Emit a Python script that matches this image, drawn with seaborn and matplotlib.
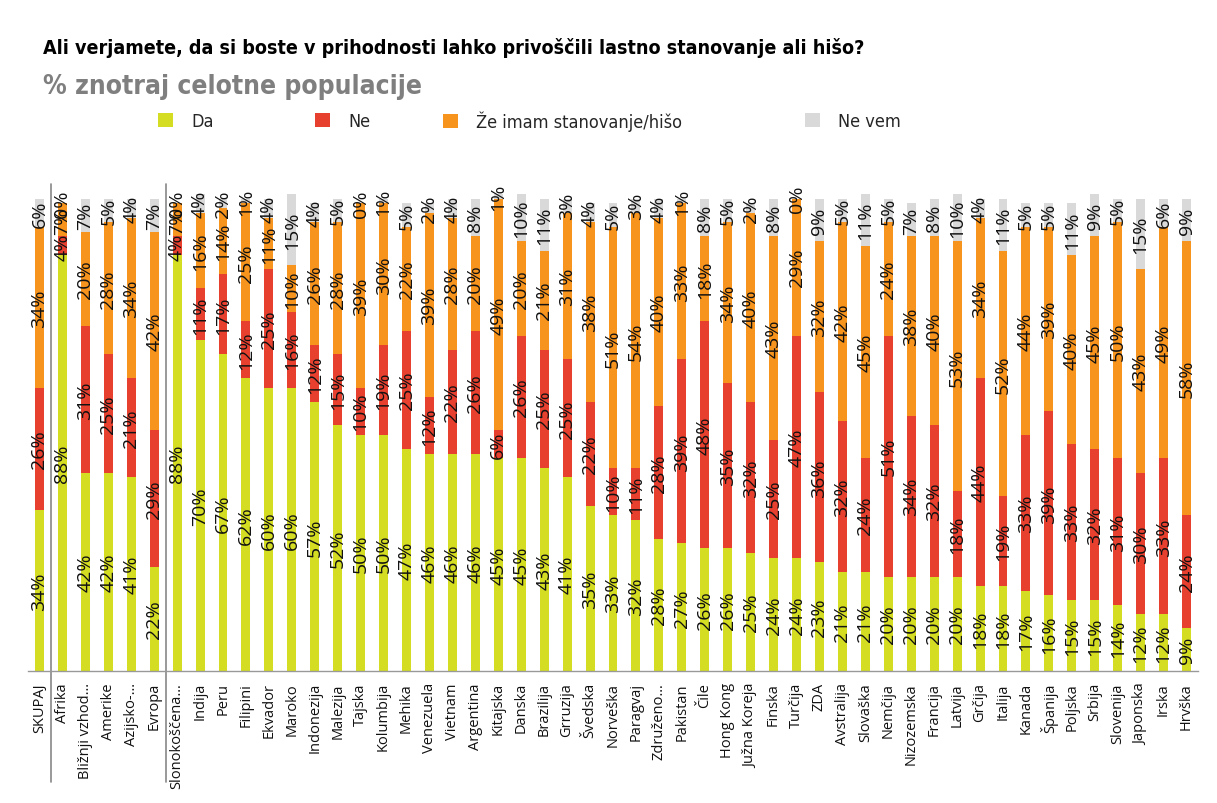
import numpy as np
import matplotlib
matplotlib.use("Agg")
import matplotlib.pyplot as plt
import matplotlib.patches as mpatches
from matplotlib import font_manager as fm
import seaborn as sns

categories = ["SKUPAJ", "Afrika", "Bližnji vzhod…", "Amerike", "Azijsko-…", "Evropa",
              "Slonokoščena…", "Indija", "Peru", "Filipini", "Ekvador", "Maroko",
              "Indonezija", "Malezija", "Tajska", "Kolumbija", "Mehika", "Venezuela",
              "Vietnam", "Argentina", "Kitajska", "Danska", "Brazilija", "Grruzija",
              "Švedska", "Norveška", "Paragvaj", "Združeno…", "Pakistan", "Čile",
              "Hong Kong", "Južna Koreja", "Finska", "Turčija", "ZDA", "Avstralija",
              "Slovaška", "Nemčija", "Nizozemska", "Francija", "Latvija", "Grčija",
              "Italija", "Kanada", "Španija", "Poljska", "Srbija", "Slovenija",
              "Japonska", "Irska", "Hrvška"]
da = [34, 88, 42, 42, 41, 22, 88, 70, 67, 62, 60, 60, 57, 52, 50, 50, 47, 46, 46, 46,
      45, 45, 43, 41, 35, 33, 32, 28, 27, 26, 26, 25, 24, 24, 23, 21, 21, 20, 20, 20,
      20, 18, 18, 17, 16, 15, 15, 14, 12, 12, 9]
ne = [26, 4, 31, 25, 21, 29, 4, 11, 17, 12, 25, 16, 12, 15, 10, 19, 25, 12, 22, 26,
      6, 26, 25, 25, 22, 10, 11, 28, 39, 48, 35, 32, 25, 47, 36, 32, 24, 51, 34, 32,
      18, 44, 19, 33, 39, 33, 32, 31, 30, 33, 24]
ze_imam = [34, 7, 20, 28, 34, 42, 7, 16, 14, 25, 11, 10, 26, 28, 39, 30, 22, 39, 28, 20,
           49, 20, 21, 31, 38, 51, 54, 40, 33, 18, 34, 40, 43, 29, 32, 42, 45, 24, 38, 40,
           53, 34, 52, 44, 39, 40, 45, 50, 43, 49, 58]
ne_vem = [6, 0, 7, 5, 4, 7, 0, 4, 2, 1, 4, 15, 4, 5, 0, 1, 5, 2, 4, 8,
          1, 10, 11, 3, 4, 5, 3, 4, 1, 8, 5, 2, 8, 0, 9, 5, 11, 5, 7, 8,
          10, 4, 11, 5, 5, 11, 9, 5, 15, 6, 9]
series_names = ["Da", "Ne", "Že imam stanovanje/hišo", "Ne vem"]
colors = ["#D5DD22", "#E8402F", "#F7941D", "#D9D9D9"]

sns.set_style("white")
names = {f.name for f in fm.fontManager.ttflist}
if "Liberation Sans Narrow" in names:
    narrow = dict(family="Liberation Sans Narrow")
else:
    narrow = dict(family="DejaVu Sans", stretch="condensed")
plt.rcParams["font.family"] = ["Open Sans", "DejaVu Sans"]

fig = plt.figure(figsize=(12.17, 8.04), dpi=100)
ax = fig.add_axes([0.0230, 0.1642, 0.9614, 0.6169])

n = len(categories)
bottom = np.zeros(n)
for vals, col, name in zip([da, ne, ze_imam, ne_vem], colors, series_names):
    sns.barplot(x=categories, y=vals, order=categories, color=col, saturation=1,
                width=0.39, bottom=bottom, ax=ax, linewidth=0)
    cont = ax.containers[-1]
    ax.bar_label(cont, labels=[f"{v}%" for v in vals], label_type="center",
                 rotation=90, fontsize=14, color="#111111")
    bottom = bottom + np.array(vals)

ax.set_xlim(-0.5, n - 0.5)
ax.set_ylim(0, 105)
ax.set_yticks([])
ax.set_ylabel("")
ax.set_xlabel("")
for s in ["left", "right", "top"]:
    ax.spines[s].set_visible(False)
ax.spines["bottom"].set_color("#999999")
ax.spines["bottom"].set_linewidth(1)
ax.set_xticks(range(n))
ax.set_xticklabels(categories, rotation=90, fontsize=10.5, color="#111111")
ax.tick_params(axis="x", which="major", length=0, pad=8)
ax.set_xticks(np.arange(-0.5, n, 1.0), minor=True)
ax.tick_params(axis="x", which="minor", length=6, color="#999999", width=1)

for xb in [0.5, 5.5]:
    ax.axvline(xb, ymin=-0.224, ymax=0.982, color="#888888", lw=1.2, clip_on=False)

fig.text(43 / 1217, 1 - 48 / 804,
         "Ali verjamete, da si boste v prihodnosti lahko privoščili lastno stanovanje ali hišo?",
         fontsize=14.1, fontweight="bold", va="center", ha="left", color="#000000", **narrow)
fig.text(43 / 1217, 1 - 87 / 804, "% znotraj celotne populacije",
         fontsize=19, fontweight="bold", va="center", ha="left", color="#7F7F7F", **narrow)

legend_x = [158, 315, 443, 805]
for lx, name, col in zip(legend_x, series_names, colors):
    h = mpatches.Patch(facecolor=col, edgecolor="none", label=name)
    leg = fig.legend(handles=[h], loc="center left",
                     bbox_to_anchor=(lx / 1217, 1 - 122 / 804),
                     frameon=False, borderpad=0, borderaxespad=0,
                     handlelength=0.85, handleheight=0.85, handletextpad=1.0,
                     prop=dict(size=13, **narrow))

fig.savefig("out.png", dpi=100)
